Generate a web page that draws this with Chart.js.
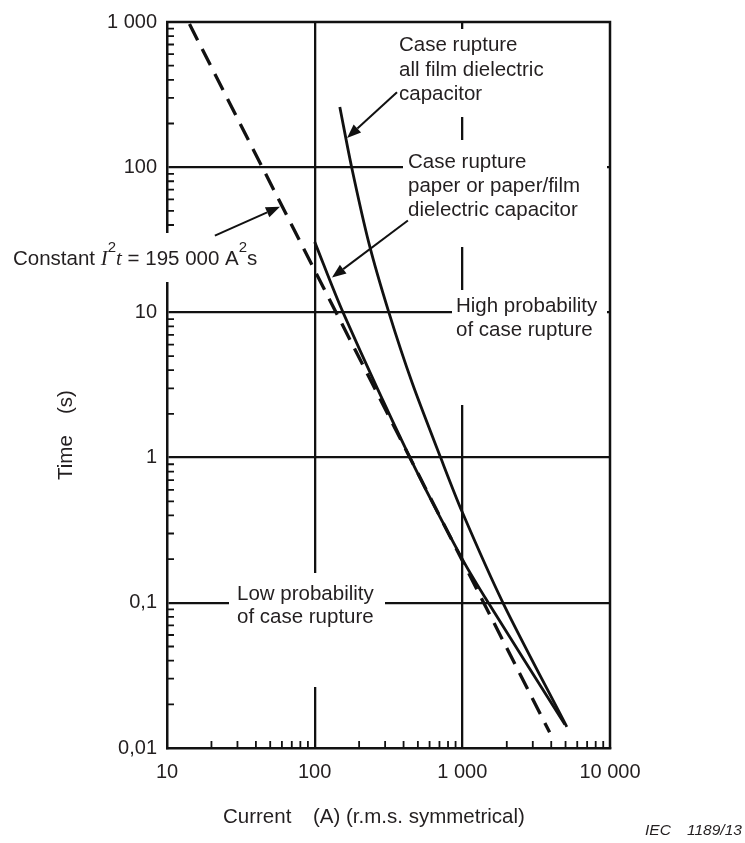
<!DOCTYPE html>
<html>
<head>
<meta charset="utf-8">
<script src="https://cdn.jsdelivr.net/npm/chart.js@4/dist/chart.umd.min.js"></script>
<style>
  html, body { margin: 0; padding: 0; background: #ffffff; }
  #wrap { width: 745px; height: 843px; position: relative; }
</style>
</head>
<body>
<div id="wrap"><canvas id="chart"></canvas></div>
<script>
// Axis decades and their printed labels
const currentDecades = [10, 100, 1000, 10000];
const currentLabels = ['10', '100', '1 000', '10 000'];
const timeDecades = [0.01, 0.1, 1, 10, 100, 1000];
const timeLabels = ['0,01', '0,1', '1', '10', '100', '1 000'];

// Case rupture curve, all film dielectric capacitor (current A, time s)
const filmCurrent = [148, 178, 233, 318, 456, 713, 1000, 1884, 5100];
const filmTime    = [260, 100, 30, 10, 3.3, 1, 0.42, 0.1, 0.014];

// Case rupture curve, paper or paper/film dielectric capacitor
const paperCurrent = [100, 155.6, 442, 1000, 1500, 4950];
const paperTime    = [30.6, 10, 1, 0.2, 0.1, 0.0145];

// Constant I²t line
const constantI2t = 195000;
const constantCurrent = [14.2, 3900];

const INK = '#111111';
const TEXT = '#231f20';
const SANS = '"Liberation Sans", Arial, sans-serif';
const SERIF = '"Liberation Serif", "Times New Roman", serif';

function toPoints(xs, ys) { return xs.map((v, i) => ({ x: v, y: ys[i] })); }

function decadeTicks(decades) {
  const out = [];
  for (let i = 0; i < decades.length - 1; i++) {
    for (let k = 1; k <= 9; k++) out.push(parseFloat((k * decades[i]).toPrecision(6)));
  }
  out.push(decades[decades.length - 1]);
  return out;
}
function decadeIndex(decades, v) {
  return decades.findIndex(d => Math.abs(Math.log10(d) - Math.log10(v)) < 1e-6);
}
function innerMajor(decades, v) {
  const i = decadeIndex(decades, v);
  return i > 0 && i < decades.length - 1;
}

// Text notes placed on the plot, each on a white patch that interrupts the grid
const notes = [
  { lines: ['Case rupture', 'all film dielectric', 'capacitor'], x: 399, y: 51, step: 24.5, box: [395, 29, 548, 117] },
  { lines: ['Case rupture', 'paper or paper/film', 'dielectric capacitor'], x: 408, y: 168, step: 24, box: [403, 140, 607, 247] },
  { lines: ['High probability', 'of case rupture'], x: 456, y: 312, step: 23.5, box: [452, 290, 607, 405] },
  { lines: ['Low probability', 'of case rupture'], x: 237, y: 600, step: 23, box: [229, 573, 385, 687] }
];
const constantBox = [5, 233, 272, 282];

// Leader arrows, tail and head given as (current, time)
const pointers = [
  { from: [21.1, 33.8], to: [58.2, 53.5] },
  { from: [428, 42.9], to: [131, 17.4] },
  { from: [361, 328], to: [165.6, 159] }
];

function drawArrow(ctx, x1, y1, x2, y2) {
  const ang = Math.atan2(y2 - y1, x2 - x1);
  const len = 14, half = 5.5;
  const bx = x2 - len * Math.cos(ang), by = y2 - len * Math.sin(ang);
  ctx.beginPath();
  ctx.moveTo(x1, y1);
  ctx.lineTo(bx, by);
  ctx.stroke();
  ctx.beginPath();
  ctx.moveTo(x2, y2);
  ctx.lineTo(bx + half * Math.sin(ang), by - half * Math.cos(ang));
  ctx.lineTo(bx - half * Math.sin(ang), by + half * Math.cos(ang));
  ctx.closePath();
  ctx.fill();
}

const decorations = {
  id: 'decorations',
  beforeDatasetsDraw(chart) {
    const { ctx, chartArea: a, scales: { x, y } } = chart;
    ctx.save();
    // top and right sides of the frame
    ctx.strokeStyle = INK;
    ctx.lineWidth = 2.5;
    ctx.beginPath();
    ctx.moveTo(a.left - 1, a.top);
    ctx.lineTo(a.right, a.top);
    ctx.lineTo(a.right, a.bottom + 1);
    ctx.stroke();

    // minor ticks pointing into the plot
    ctx.lineWidth = 1.8;
    ctx.beginPath();
    x.ticks.forEach(t => {
      if (decadeIndex(currentDecades, t.value) >= 0) return;
      const px = x.getPixelForValue(t.value);
      ctx.moveTo(px, a.bottom);
      ctx.lineTo(px, a.bottom - 7);
    });
    y.ticks.forEach(t => {
      if (decadeIndex(timeDecades, t.value) >= 0) return;
      const py = y.getPixelForValue(t.value);
      ctx.moveTo(a.left, py);
      ctx.lineTo(a.left + 7, py);
    });
    ctx.stroke();

    // white patches behind the notes
    ctx.fillStyle = '#ffffff';
    notes.forEach(n => {
      const [l, t, r, b] = n.box;
      ctx.fillRect(l, t, r - l, b - t);
    });
    ctx.fillRect(constantBox[0], constantBox[1], constantBox[2] - constantBox[0], constantBox[3] - constantBox[1]);

    // notes
    ctx.fillStyle = TEXT;
    ctx.textBaseline = 'alphabetic';
    ctx.textAlign = 'left';
    ctx.font = '20.5px ' + SANS;
    notes.forEach(n => {
      n.lines.forEach((line, i) => ctx.fillText(line, n.x, n.y + i * n.step));
    });

    // Constant I²t = 195 000 A²s
    const parts = [
      { s: 'Constant ', f: '20.5px ' + SANS, dy: 0 },
      { s: 'I', f: 'italic 21px ' + SERIF, dy: 0 },
      { s: '2', f: '15px ' + SANS, dy: -13 },
      { s: 't', f: 'italic 21px ' + SERIF, dy: 0 },
      { s: ' = 195 000 A', f: '20.5px ' + SANS, dy: 0 },
      { s: '2', f: '15px ' + SANS, dy: -13 },
      { s: 's', f: '20.5px ' + SANS, dy: 0 }
    ];
    let cx = 13;
    const base = 265;
    parts.forEach(p => {
      ctx.font = p.f;
      ctx.fillText(p.s, cx, base + p.dy);
      cx += ctx.measureText(p.s).width;
    });

    // axis titles
    ctx.font = '20.5px ' + SANS;
    ctx.fillText('Current', 223, 823);
    ctx.fillText('(A) (r.m.s. symmetrical)', 313, 823);

    ctx.save();
    ctx.translate(72, 435);
    ctx.rotate(-Math.PI / 2);
    ctx.textAlign = 'left';
    ctx.fillText('Time', -45, 0);
    ctx.fillText('(s)', 21, 0);
    ctx.restore();

    ctx.font = 'italic 15.5px ' + SANS;
    ctx.fillText('IEC', 645, 835);
    ctx.fillText('1189/13', 687, 835);
    ctx.restore();
  },
  afterDatasetsDraw(chart) {
    const { ctx, scales: { x, y } } = chart;
    ctx.save();
    ctx.strokeStyle = INK;
    ctx.fillStyle = INK;
    ctx.lineWidth = 2;
    pointers.forEach(p => {
      drawArrow(ctx,
        x.getPixelForValue(p.from[0]), y.getPixelForValue(p.from[1]),
        x.getPixelForValue(p.to[0]), y.getPixelForValue(p.to[1]));
    });
    ctx.restore();
  }
};

Chart.defaults.font.family = SANS;
Chart.defaults.font.size = 20;
Chart.defaults.color = TEXT;

new Chart(document.getElementById('chart'), {
  type: 'scatter',
  data: {
    datasets: [
      {
        label: 'Constant I²t',
        data: toPoints(constantCurrent, constantCurrent.map(i => constantI2t / (i * i))),
        showLine: true,
        borderColor: INK,
        borderWidth: 3.3,
        borderDash: [18, 10],
        pointRadius: 0,
        tension: 0
      },
      {
        label: 'All film dielectric capacitor',
        data: toPoints(filmCurrent, filmTime),
        showLine: true,
        borderColor: INK,
        borderWidth: 2.8,
        pointRadius: 0,
        tension: 0.3
      },
      {
        label: 'Paper or paper/film dielectric capacitor',
        data: toPoints(paperCurrent, paperTime),
        showLine: true,
        borderColor: INK,
        borderWidth: 2.8,
        pointRadius: 0,
        tension: 0.3
      }
    ]
  },
  options: {
    responsive: true,
    maintainAspectRatio: false,
    animation: false,
    events: [],
    layout: { padding: { left: 0, top: 19, right: 135, bottom: 0 } },
    plugins: { legend: { display: false }, tooltip: { enabled: false } },
    scales: {
      x: {
        type: 'logarithmic',
        min: 10,
        max: 10000,
        afterBuildTicks: s => { s.ticks = decadeTicks(currentDecades).map(v => ({ value: v })); },
        afterFit: s => { s.height = 95; },
        ticks: {
          autoSkip: false,
          maxRotation: 0,
          padding: 12,
          font: { size: 20 },
          color: TEXT,
          callback: v => { const i = decadeIndex(currentDecades, v); return i >= 0 ? currentLabels[i] : ''; }
        },
        grid: {
          drawTicks: false,
          lineWidth: 2.3,
          color: c => (c.tick && innerMajor(currentDecades, c.tick.value)) ? INK : 'rgba(0,0,0,0)'
        },
        border: { display: true, color: INK, width: 2.5 }
      },
      y: {
        type: 'logarithmic',
        min: 0.01,
        max: 1000,
        afterBuildTicks: s => { s.ticks = decadeTicks(timeDecades).map(v => ({ value: v })); },
        afterFit: s => { s.width = 167; },
        ticks: {
          autoSkip: false,
          padding: 10,
          font: { size: 20 },
          color: TEXT,
          callback: v => { const i = decadeIndex(timeDecades, v); return i >= 0 ? timeLabels[i] : ''; }
        },
        grid: {
          drawTicks: false,
          lineWidth: 2.3,
          color: c => (c.tick && innerMajor(timeDecades, c.tick.value)) ? INK : 'rgba(0,0,0,0)'
        },
        border: { display: true, color: INK, width: 2.5 }
      }
    }
  },
  plugins: [decorations]
});
</script>
</body>
</html>
